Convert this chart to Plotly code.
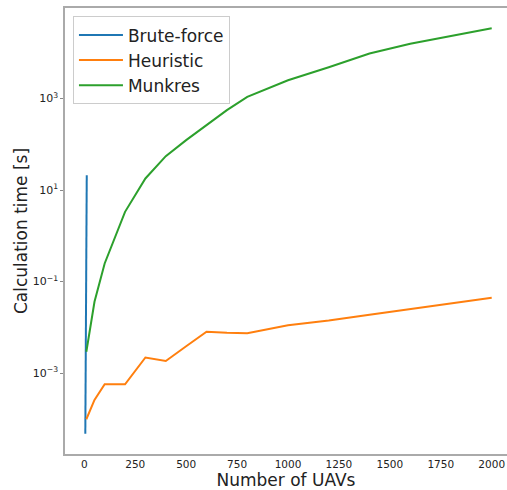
import plotly.graph_objects as go

# Data
bf_x = [5, 6, 7, 8, 9, 10, 11, 12]
bf_y = [4.7e-5, 3.2e-4, 2.2e-3, 1.6e-2, 0.13, 0.95, 5.5, 21.0]

heu_x = [10, 50, 100, 200, 300, 400, 500, 600, 700, 800, 1000, 1200, 1400, 1600, 2000]
heu_y = [9.8e-5, 2.6e-4, 5.7e-4, 5.7e-4, 2.19e-3, 1.84e-3, 3.85e-3, 8.0e-3, 7.6e-3,
         7.4e-3, 1.11e-2, 1.41e-2, 1.88e-2, 2.49e-2, 4.43e-2]

mun_x = [10, 50, 100, 200, 300, 400, 500, 600, 700, 800, 900, 1000, 1200, 1400, 1600, 2000]
mun_y = [2.93e-3, 3.62e-2, 0.249, 3.34, 17.9, 55, 123, 261, 556, 1083, 1652, 2500,
         4840, 9600, 15800, 34300]

series = [
    ("Brute-force", bf_x, bf_y, "#1f77b4"),
    ("Heuristic", heu_x, heu_y, "#ff7f0e"),
    ("Munkres", mun_x, mun_y, "#2ca02c"),
]

x_ticks = [0, 250, 500, 750, 1000, 1250, 1500, 1750, 2000]
y_tickvals = [1e-3, 1e-1, 1e1, 1e3]
y_ticktext = ["10<sup>\u22123</sup>", "10<sup>\u22121</sup>", "10<sup>1</sup>", "10<sup>3</sup>"]

fig = go.Figure()
for name, xs, ys, col in series:
    fig.add_trace(go.Scatter(x=xs, y=ys, mode="lines", name=name,
                             line=dict(color=col, width=2)))

font = "DejaVu Sans"
fig.update_layout(
    width=507, height=490,
    margin=dict(l=65, r=0, t=8, b=36),
    paper_bgcolor="white", plot_bgcolor="white",
    font=dict(family=font, color="#222222"),
    showlegend=True,
    legend=dict(x=0.018, y=0.981, xanchor="left", yanchor="top",
                bgcolor="rgba(255,255,255,0.8)", bordercolor="#cccccc", borderwidth=1,
                font=dict(size=17, family=font, color="#222222"),
                itemwidth=44, tracegroupgap=0),
)
fig.update_xaxes(
    range=[-94.75, 2075], tickvals=x_ticks, ticktext=[str(v) for v in x_ticks],
    showgrid=False, zeroline=False,
    showline=True, linecolor="#aaaaaa", linewidth=1.5, mirror=True,
    ticks="", ticklen=0,
    tickfont=dict(size=10.5, family=font, color="#222222"),
    title=dict(text="Number of UAVs", font=dict(size=17, family=font, color="#222222"),
               standoff=5),
)
fig.update_yaxes(
    type="log", range=[-4.768, 4.978], tickvals=y_tickvals, ticktext=y_ticktext,
    showgrid=False, zeroline=False,
    showline=True, linecolor="#aaaaaa", linewidth=1.5, mirror=False,
    ticks="outside", ticklen=3, tickcolor="#888888",
    tickfont=dict(size=11, family=font, color="#222222"),
    title=dict(text="Calculation time [s]", font=dict(size=17, family=font, color="#222222"),
               standoff=1),
)

fig.write_html("out.html")
